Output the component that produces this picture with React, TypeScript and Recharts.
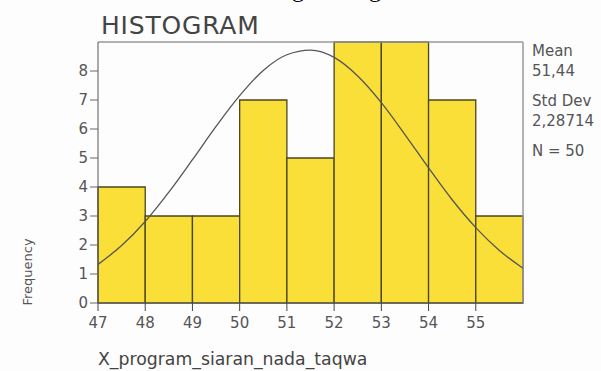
import React from 'react';
import { ComposedChart, Line, XAxis, YAxis, ReferenceLine, ReferenceArea } from 'recharts';

// histogram bins (N = 50)
const binStarts = [47, 48, 49, 50, 51, 52, 53, 54, 55];
const binEnds = [48, 49, 50, 51, 52, 53, 54, 55, 56];
const binCounts = [4, 3, 3, 7, 5, 9, 9, 7, 3];

// fitted curve, every half unit
const curveX = [47, 47.5, 48, 48.5, 49, 49.5, 50, 50.5, 51, 51.5, 52, 52.5, 53, 53.5, 54, 54.5, 55, 55.5, 56];
const curveY = [1.33, 1.98, 2.81, 3.82, 4.94, 6.09, 7.15, 8.02, 8.56, 8.72, 8.47, 7.83, 6.91, 5.81, 4.66, 3.56, 2.6, 1.81, 1.2];

const xTicks = [47, 48, 49, 50, 51, 52, 53, 54, 55];
const yTicks = [0, 1, 2, 3, 4, 5, 6, 7, 8];
const statLines = ['Mean', '51,44', 'Std Dev', '2,28714', 'N = 50'];

const curveData = curveX.map((x, i) => ({ x, y: curveY[i] }));

const font = '"DejaVu Sans", Verdana, sans-serif';
const tickStyle = { fill: '#555', fontSize: 15, fontFamily: font };

export default function App() {
    const statTops = [42, 62, 92, 112, 142];
    return (
        <div style={{ position: 'absolute', left: 0, top: 0, width: 601, height: 371, overflow: 'hidden', background: '#fdfdfd' }}>
            {/* descenders of the cropped line above */}
            <div style={{ position: 'absolute', left: 292, top: -23, fontFamily: '"Liberation Serif", serif', fontSize: 24, lineHeight: 1, color: '#000' }}>g</div>
            <div style={{ position: 'absolute', left: 369, top: -23, fontFamily: '"Liberation Serif", serif', fontSize: 24, lineHeight: 1, color: '#000' }}>g</div>

            <ComposedChart
                width={601}
                height={371}
                data={curveData}
                margin={{ top: 42, right: 78, bottom: 38, left: 58 }}
            >
                <XAxis
                    dataKey="x"
                    type="number"
                    domain={[47, 56]}
                    ticks={xTicks}
                    allowDataOverflow
                    tick={{ ...tickStyle, dy: 4 }}
                    tickSize={8}
                    tickLine={{ stroke: '#444' }}
                    axisLine={{ stroke: '#666' }}
                    height={30}
                />
                <YAxis
                    type="number"
                    domain={[0, 9]}
                    ticks={yTicks}
                    allowDataOverflow
                    tick={tickStyle}
                    tickSize={8}
                    tickLine={{ stroke: '#666' }}
                    axisLine={{ stroke: '#555' }}
                    width={40}
                />
                {binStarts.map((s, i) => (
                    <ReferenceArea
                        key={s}
                        x1={s}
                        x2={binEnds[i]}
                        y1={0}
                        y2={binCounts[i]}
                        fill="#f9df38"
                        fillOpacity={1}
                        stroke="#4a4525"
                        strokeWidth={1.3}
                        strokeOpacity={1}
                    />
                ))}
                <ReferenceLine y={9} stroke="#999" strokeWidth={1.5} />
                <ReferenceLine x={56} stroke="#999" strokeWidth={1.5} />
                <Line
                    dataKey="y"
                    type="monotone"
                    stroke="#555"
                    strokeWidth={1.3}
                    dot={false}
                    isAnimationActive={false}
                />
            </ComposedChart>

            <div style={{ position: 'absolute', left: 101, top: 11, fontFamily: font, fontSize: 25, color: '#444', letterSpacing: 0.8 }}>
                HISTOGRAM
            </div>

            {statLines.map((t, i) => (
                <div key={t} style={{ position: 'absolute', left: 532, top: statTops[i], fontFamily: font, fontSize: 15, color: '#555', whiteSpace: 'nowrap' }}>
                    {t}
                </div>
            ))}

            <div style={{ position: 'absolute', left: 98, top: 351, fontFamily: font, fontSize: 17.3, lineHeight: 1, color: '#444', whiteSpace: 'nowrap' }}>
                X_program_siaran_nada_taqwa
            </div>

            <div style={{ position: 'absolute', left: 27, top: 272, transform: 'translate(-50%, -50%) rotate(-90deg)', fontFamily: font, fontSize: 13, color: '#555', whiteSpace: 'nowrap' }}>
                Frequency
            </div>
        </div>
    );
}
